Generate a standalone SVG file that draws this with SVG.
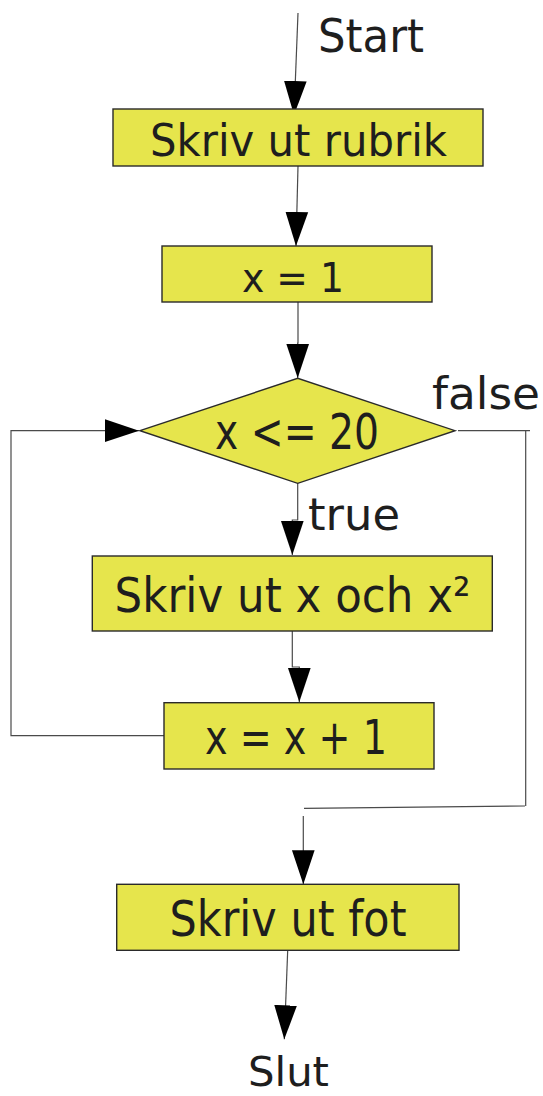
<svg xmlns="http://www.w3.org/2000/svg" width="543" height="1096" viewBox="0 0 543 1096">
  <style>
    .box { fill: #e6e54c; stroke: #2a2a2a; stroke-width: 1.4; }
    .lbl { font-family: "DejaVu Sans", "Liberation Sans", sans-serif; fill: #1e1e1e; }
    .wire { fill: none; stroke: #4a4a4a; stroke-width: 1.2; }
    .arrow { marker-end: url(#head); }
  </style>
  <defs>
    <marker id="head" markerUnits="userSpaceOnUse" markerWidth="34" markerHeight="24" viewBox="0 0 33 22" refX="33" refY="11" orient="auto">
      <path d="M0,0 L33,11 L0,22 Z" fill="#000"/>
    </marker>
  </defs>

  <!-- connectors -->
  <g id="connectors">
    <path class="wire arrow" d="M298,13 L294,115"/>
    <path class="wire arrow" d="M298,166 L296,246"/>
    <path class="wire arrow" d="M298,302 V343 H297.7 V378"/>
    <path class="wire arrow" d="M297.7,483 V520 H292.3 V555"/>
    <path class="wire arrow" d="M292.3,631 V667 H299.3 V702"/>
    <path class="wire arrow" d="M164,735.7 H11 V430.7 H139"/>
    <path class="wire" d="M458,430.7 H530"/>
    <path class="wire" d="M525.7,430 V806"/>
    <path class="wire" d="M525,806 L304,808.3"/>
    <path class="wire arrow" d="M303.3,816 V884.3"/>
    <path class="wire arrow" d="M287.7,950.3 L284.3,1039.3"/>
  </g>

  <!-- terminal labels -->
  <g id="start">
    <text class="lbl" x="318" y="52" font-size="46" textLength="106" lengthAdjust="spacingAndGlyphs">Start</text>
  </g>

  <g id="print-header">
    <rect class="box" x="113" y="109" width="370" height="57"/>
    <text class="lbl" x="150" y="156" font-size="45" textLength="297" lengthAdjust="spacingAndGlyphs">Skriv ut rubrik</text>
  </g>

  <g id="init-x">
    <rect class="box" x="162" y="246" width="270" height="56"/>
    <text class="lbl" x="242" y="292" font-size="41" textLength="102" lengthAdjust="spacingAndGlyphs">x = 1</text>
  </g>

  <g id="condition">
    <polygon class="box" points="140,430.7 297.7,378.3 455,430.7 297.7,483.3"/>
    <text class="lbl" x="215" y="449.3" font-size="49" textLength="164" lengthAdjust="spacingAndGlyphs">x &lt;= 20</text>
  </g>

  <g id="branch-labels">
    <text class="lbl" x="432" y="409" font-size="45" textLength="108" lengthAdjust="spacingAndGlyphs">false</text>
    <text class="lbl" x="308" y="530" font-size="45" textLength="92" lengthAdjust="spacingAndGlyphs">true</text>
  </g>

  <g id="print-x">
    <rect class="box" x="92.3" y="556" width="400" height="75"/>
    <text class="lbl" x="114.5" y="611.7" font-size="48" textLength="356" lengthAdjust="spacingAndGlyphs">Skriv ut x och x²</text>
  </g>

  <g id="increment">
    <rect class="box" x="164" y="702.7" width="270" height="66.3"/>
    <text class="lbl" x="205" y="753.7" font-size="48" textLength="182" lengthAdjust="spacingAndGlyphs">x = x + 1</text>
  </g>

  <g id="print-footer">
    <rect class="box" x="116.7" y="884.3" width="342.3" height="66"/>
    <text class="lbl" x="169.5" y="935.7" font-size="49" textLength="237" lengthAdjust="spacingAndGlyphs">Skriv ut fot</text>
  </g>

  <g id="end">
    <text class="lbl" x="248" y="1086" font-size="41" textLength="81" lengthAdjust="spacingAndGlyphs">Slut</text>
  </g>
</svg>
